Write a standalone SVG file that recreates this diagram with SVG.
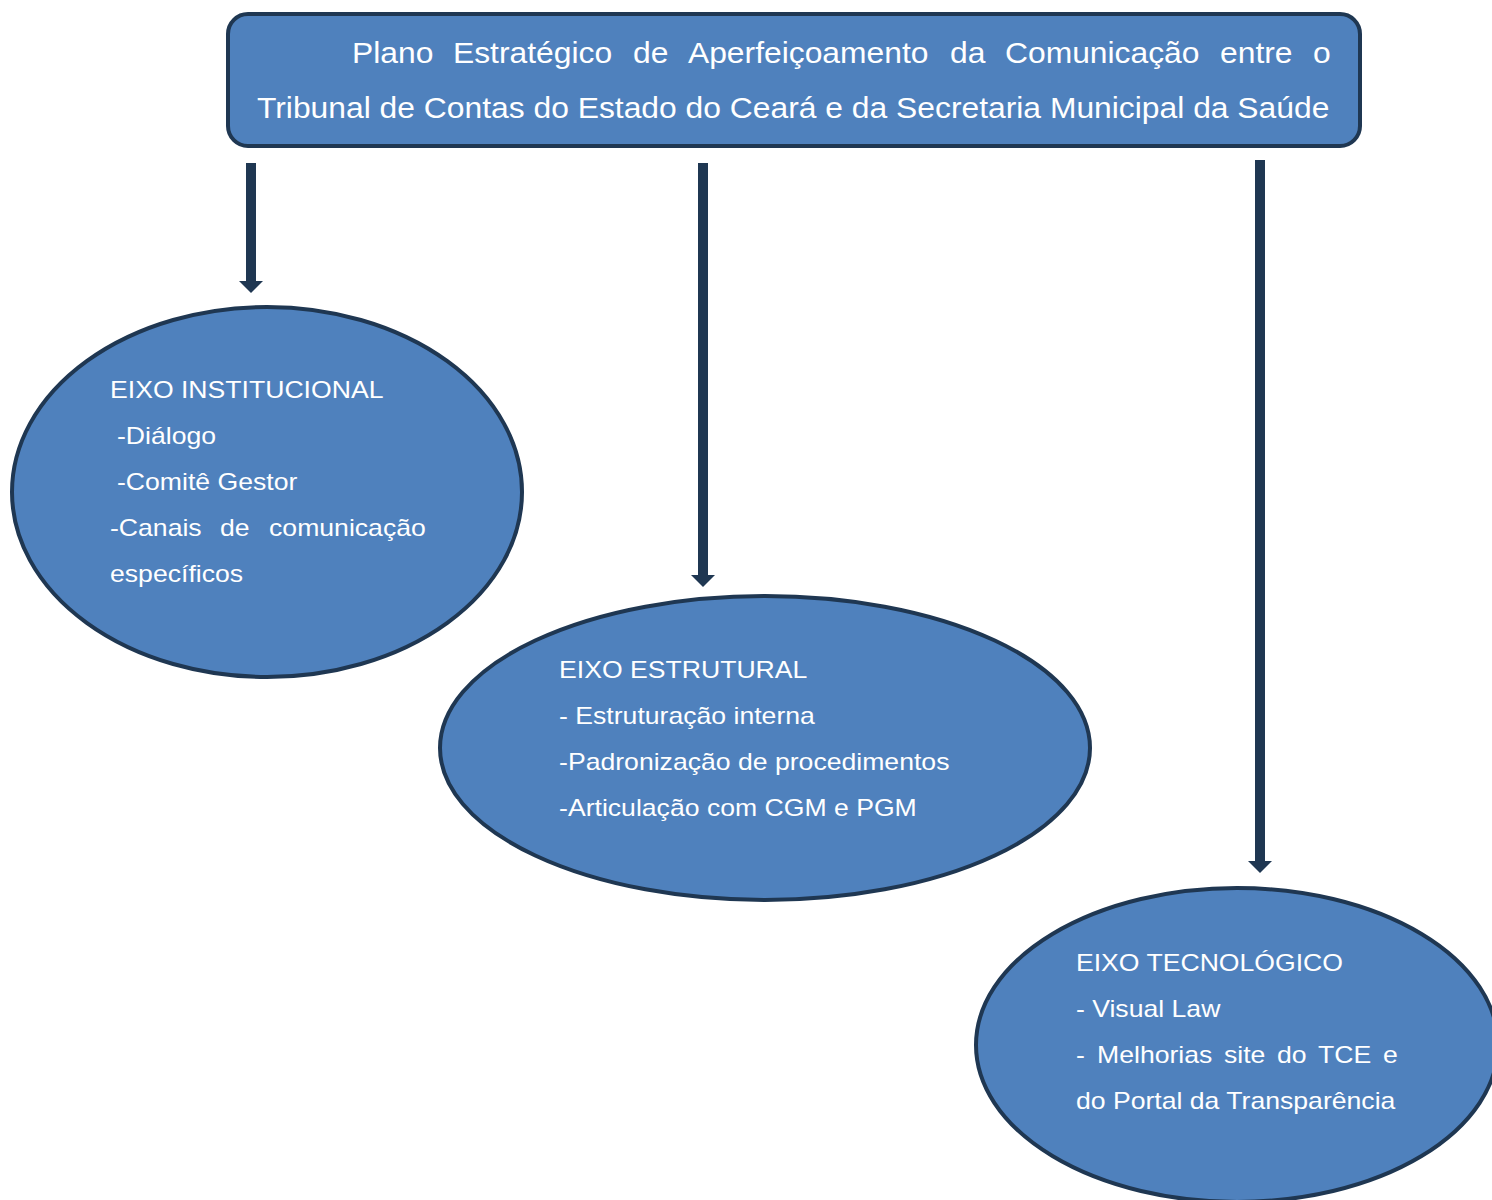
<svg xmlns="http://www.w3.org/2000/svg" width="1492" height="1200" viewBox="0 0 1492 1200">
<defs>
<style>
.node{fill:#4F81BD;stroke:#1F3752;stroke-width:4}
.t{font-family:"Liberation Sans",Arial,sans-serif;fill:#FFFFFF}
.tt{font-size:29.5px}
.et{font-size:24px}
.shaft{stroke:#1F3752;stroke-width:10;fill:none}
.head{fill:#1F3752}
</style>
</defs>
<rect width="1492" height="1200" fill="#FFFFFF"/>
<g id="connectors">
<path class="shaft" d="M251,163 V282"/>
<polygon class="head" points="239,281 263,281 251,293"/>
<path class="shaft" d="M703,163 V576"/>
<polygon class="head" points="691,575 715,575 703,587"/>
<path class="shaft" d="M1260,160 V862"/>
<polygon class="head" points="1248,861 1272,861 1260,873"/>
</g>
<g id="title">
<rect class="node" x="228" y="14" width="1132" height="132" rx="20"/>
<g transform="scale(1.079,1)">
<text class="t tt" y="63"><tspan x="326.2">Plano</tspan><tspan x="419.8">Estratégico</tspan><tspan x="586.7">de</tspan><tspan x="637.6">Aperfeiçoamento</tspan><tspan x="880.4">da</tspan><tspan x="931.4">Comunicação</tspan><tspan x="1130.7">entre</tspan><tspan x="1216.9">o</tspan></text>
<text class="t tt" x="238.2" y="118">Tribunal de Contas do Estado do Ceará e da Secretaria Municipal da Saúde</text>
</g>
</g>
<g id="eixo-institucional">
<ellipse class="node" cx="267" cy="492" rx="255" ry="185"/>
<g transform="scale(1.109,1)">
<text class="t et" x="99.2" y="398">EIXO INSTITUCIONAL</text>
<text class="t et" x="105.5" y="444">-Diálogo</text>
<text class="t et" x="105.5" y="490">-Comitê Gestor</text>
<text class="t et" y="536"><tspan x="99.2">-Canais</tspan><tspan x="198.4">de</tspan><tspan x="242.6">comunicação</tspan></text>
<text class="t et" x="99.2" y="582">específicos</text>
</g>
</g>
<g id="eixo-estrutural">
<ellipse class="node" cx="765" cy="748" rx="325" ry="152"/>
<g transform="scale(1.109,1)">
<text class="t et" x="504.1" y="678">EIXO ESTRUTURAL</text>
<text class="t et" x="504.1" y="724">- Estruturação interna</text>
<text class="t et" x="504.1" y="770">-Padronização de procedimentos</text>
<text class="t et" x="504.1" y="816">-Articulação com CGM e PGM</text>
</g>
</g>
<g id="eixo-tecnologico">
<ellipse class="node" cx="1237" cy="1045" rx="261" ry="157"/>
<g transform="scale(1.109,1)">
<text class="t et" x="970.2" y="971">EIXO TECNOLÓGICO</text>
<text class="t et" x="970.2" y="1017">- Visual Law</text>
<text class="t et" y="1063"><tspan x="970.2">-</tspan><tspan x="989.2">Melhorias</tspan><tspan x="1103.7">site</tspan><tspan x="1151.5">do</tspan><tspan x="1188.5">TCE</tspan><tspan x="1247.1">e</tspan></text>
<text class="t et" x="970.2" y="1109">do Portal da Transparência</text>
</g>
</g>
</svg>
